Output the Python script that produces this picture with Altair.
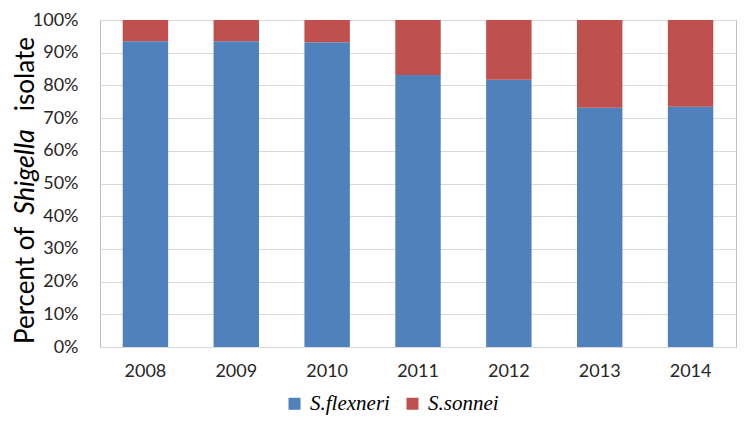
import altair as alt
import pandas as pd

years = ["2008", "2009", "2010", "2011", "2012", "2013", "2014"]
flexneri = [93.5, 93.5, 93.2, 83.2, 81.7, 73.2, 73.5]
sonnei = [6.5, 6.5, 6.8, 16.8, 18.3, 26.8, 26.5]
species = ["S.flexneri", "S.sonnei"]
colors = ["#4F81BD", "#C0504D"]
y_ticks = [0, 0.1, 0.2, 0.3, 0.4, 0.5, 0.6, 0.7, 0.8, 0.9, 1.0]

rows = []
for i, y in enumerate(years):
    rows.append({"year": y, "species": species[0], "value": flexneri[i], "ord": 0})
    rows.append({"year": y, "species": species[1], "value": sonnei[i], "ord": 1})
df = pd.DataFrame(rows)

bars = alt.Chart(df).mark_bar().encode(
    x=alt.X("year:N", sort=years,
            scale=alt.Scale(paddingInner=0.5, paddingOuter=0.25),
            axis=alt.Axis(title=None, labelAngle=0, labelPadding=15, labelFontSize=18,
                          labelFont="Lato", labelColor="#262626", ticks=False, domain=False, grid=False)),
    y=alt.Y("value:Q", stack="normalize", scale=alt.Scale(domain=[0, 1]),
            axis=alt.Axis(values=y_ticks, format=".0%", title=None, labelPadding=22, labelFontSize=18,
                          labelFont="Lato", labelColor="#262626", ticks=False, domain=False,
                          grid=True, gridColor="#D9D9D9")),
    color=alt.Color("species:N", scale=alt.Scale(domain=species, range=colors),
                    legend=alt.Legend(title=None, orient="none", legendX=184, legendY=373,
                                      direction="horizontal", symbolType="square", symbolSize=144,
                                      symbolStrokeWidth=0, padding=0,
                                      labelFont="Liberation Serif", labelFontStyle="italic",
                                      labelFontSize=21, labelColor="#000000", labelOffset=5,
                                      columnPadding=12)),
    order=alt.Order("ord:Q", sort="ascending"),
)

def title_piece(txt, y, align, style, size=26):
    return alt.Chart(pd.DataFrame({"t": [txt]})).mark_text(
        angle=270, align=align, baseline="alphabetic", font="Lato", fontSize=size,
        fontStyle=style, color="#000000"
    ).encode(x=alt.value(-66), y=alt.value(y), text="t:N")

t1 = title_piece("Percent of", 324, "left", "normal")
t2 = title_piece("Shigella", 152, "center", "italic", 27)
t3 = title_piece("isolate", 17, "right", "normal")

chart = alt.layer(bars, t1, t2, t3).properties(
    width=636, height=327,
    autosize=alt.AutoSizeParams(type="none"),
    padding={"left": 92, "top": 12, "right": 1, "bottom": 69},
).configure_view(stroke="#BFBFBF", strokeWidth=1)

chart.save("out.html", embed_options={"renderer": "svg", "actions": False})
